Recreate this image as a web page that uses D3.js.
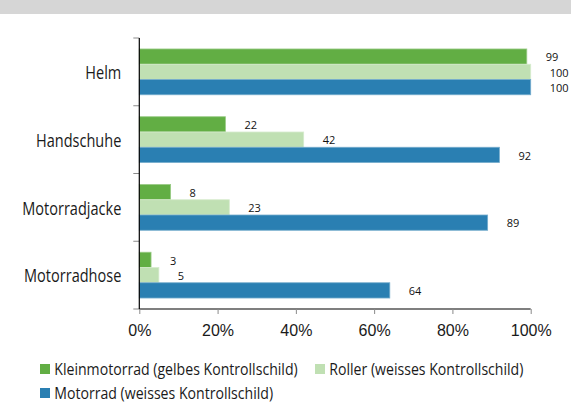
<!DOCTYPE html>
<html>
<head>
<meta charset="utf-8">
<script src="https://cdn.jsdelivr.net/npm/d3@7"></script>
<style>
  html, body { margin: 0; padding: 0; background: #fff; }
  svg { display: block; font-family: "Open Sans", "Noto Sans", sans-serif; }
</style>
</head>
<body>
<div id="chart"></div>
<script>
// Schutzausrüstung nach Fahrzeugtyp (in %)
const categories = ["Helm", "Handschuhe", "Motorradjacke", "Motorradhose"];
const series = [
  "Kleinmotorrad (gelbes Kontrollschild)",
  "Roller (weisses Kontrollschild)",
  "Motorrad (weisses Kontrollschild)"
];
const kleinmotorrad = [99, 22, 8, 3];
const roller = [100, 42, 23, 5];
const motorrad = [100, 92, 89, 64];
const xTicks = [0, 20, 40, 60, 80, 100];

const colors = ["#62ae44", "#c0e0b3", "#2a7fb2"];

const width = 571, height = 405;
const margin = { left: 139.3, right: 40.3, top: 38, bottom: 96 };
const squeeze = 0.83; // labels are horizontally condensed in the original

const svg = d3.select("#chart").append("svg")
  .attr("width", width)
  .attr("height", height);

// grey strip at the top
svg.append("rect")
  .attr("x", 0).attr("y", 0)
  .attr("width", width).attr("height", 14)
  .attr("fill", "#d6d6d6");

const x = d3.scaleLinear()
  .domain([0, 100])
  .range([margin.left, width - margin.right]);

const y = d3.scaleBand()
  .domain(categories)
  .range([margin.top, height - margin.bottom])
  .paddingInner(0.324)
  .paddingOuter(0.162);

const ySub = d3.scaleBand()
  .domain(d3.range(series.length))
  .range([0, y.bandwidth()]);

const rows = categories.map((c, i) => ({
  cat: c,
  vals: [kleinmotorrad[i], roller[i], motorrad[i]]
}));

// bars
const grp = svg.append("g").selectAll("g")
  .data(rows)
  .join("g")
  .attr("transform", d => `translate(0,${y(d.cat)})`);

grp.selectAll("rect")
  .data(d => d.vals.map((v, k) => ({ v, k })))
  .join("rect")
  .attr("x", x(0))
  .attr("y", d => ySub(d.k))
  .attr("width", d => x(d.v) - x(0))
  .attr("height", ySub.bandwidth())
  .attr("fill", d => colors[d.k])
  .attr("stroke", d => d3.interpolateRgb(colors[d.k], "#fff")(0.35))
  .attr("stroke-width", 0.8);

// value labels
grp.selectAll("text")
  .data(d => d.vals.map((v, k) => ({ v, k })))
  .join("text")
  .attr("x", d => x(d.v) + 19)
  .attr("y", d => ySub(d.k) + ySub.bandwidth() / 2 + 1)
  .attr("dy", "0.35em")
  .attr("font-size", 11)
  .attr("fill", "#111")
  .text(d => d.v);

// y axis: line + ticks at band edges
const edge = c => y(c) - y.step() * y.paddingOuter();
const yEdges = categories.map(edge).concat([height - margin.bottom]);
const yAxis = svg.append("g");
yAxis.selectAll("line.tick")
  .data(yEdges)
  .join("line")
  .attr("class", "tick")
  .attr("x1", margin.left - 6).attr("x2", margin.left)
  .attr("y1", d => d).attr("y2", d => d)
  .attr("stroke", "#8a8a8a").attr("stroke-width", 1);
yAxis.append("line")
  .attr("x1", margin.left).attr("x2", margin.left)
  .attr("y1", margin.top).attr("y2", height - margin.bottom)
  .attr("stroke", "#000").attr("stroke-width", 1.2);

yAxis.selectAll("text")
  .data(categories)
  .join("text")
  .attr("transform", d => `translate(${margin.left - 18},${y(d) + y.bandwidth() / 2 + 1}) scale(${squeeze},1)`)
  .attr("text-anchor", "end")
  .attr("dy", "0.35em")
  .attr("font-size", 17.5)
  .attr("fill", "#1a1a1a")
  .text(d => d);

// x axis
const xAxis = svg.append("g")
  .attr("transform", `translate(0,${height - margin.bottom})`)
  .call(d3.axisBottom(x).tickValues(xTicks).tickSize(5).tickPadding(11).tickFormat(d => d + "%"));
xAxis.select(".domain").attr("stroke", "#000").attr("stroke-width", 1.2)
  .attr("d", `M${x(0)},0H${x(100)}`);
xAxis.selectAll(".tick line").attr("stroke", "#8a8a8a");
xAxis.selectAll(".tick text")
  .attr("font-family", "inherit")
  .attr("font-size", 16)
  .attr("fill", "#1a1a1a");

// legend
const legendItems = [
  { k: 0, x: 40, y: 368 },
  { k: 1, x: 315, y: 368 },
  { k: 2, x: 40, y: 392 }
];
const leg = svg.append("g").selectAll("g")
  .data(legendItems)
  .join("g")
  .attr("transform", d => `translate(${d.x},${d.y})`);
leg.append("rect")
  .attr("x", 0).attr("y", -4)
  .attr("width", 10).attr("height", 10)
  .attr("fill", d => colors[d.k]);
leg.append("text")
  .attr("transform", `translate(14.3,1) scale(${squeeze},1)`)
  .attr("dy", "0.35em")
  .attr("font-size", 17)
  .attr("fill", "#1a1a1a")
  .text(d => series[d.k]);
</script>
</body>
</html>
